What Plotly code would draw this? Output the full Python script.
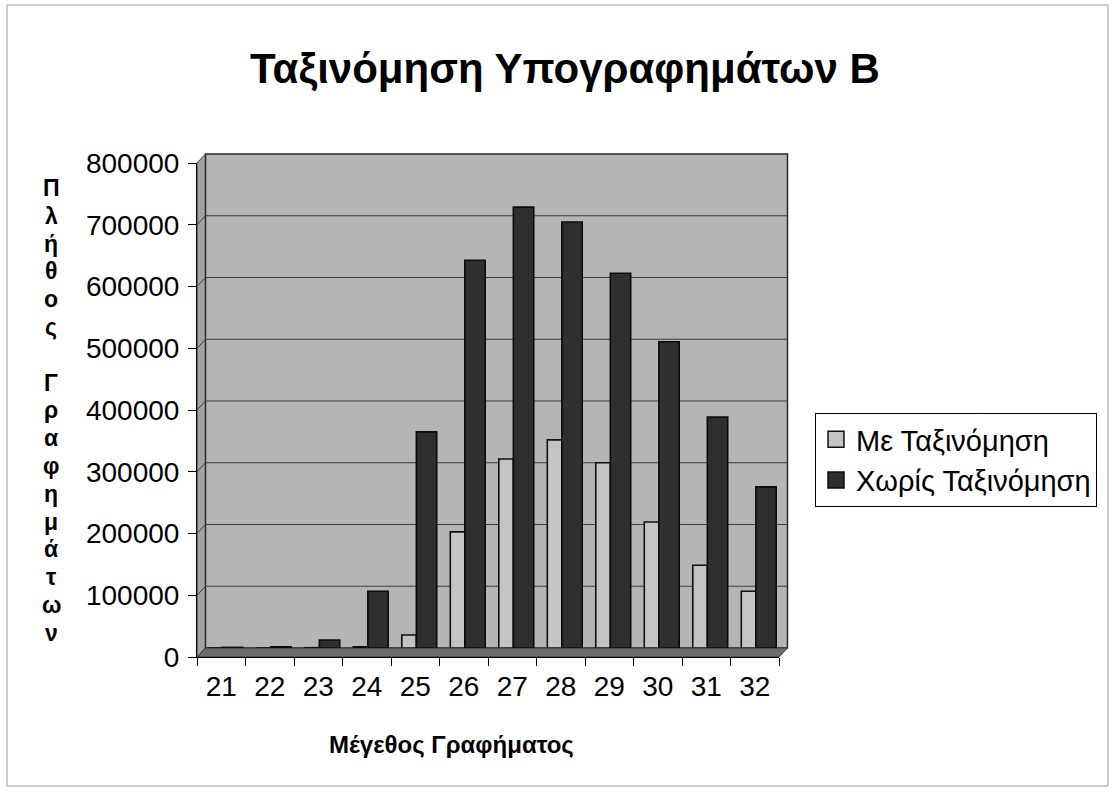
import plotly.graph_objects as go

# ---- data ----
sizes = ["21", "22", "23", "24", "25", "26", "27", "28", "29", "30", "31", "32"]
with_sort = [0, 0, 500, 2000, 21000, 188000, 306000, 337000, 300000, 204000, 134000, 92000]
without_sort = [1000, 2000, 13000, 92000, 350000, 628000, 714000, 690000, 607000, 496000, 374000, 261000]
y_ticks = [0, 100000, 200000, 300000, 400000, 500000, 600000, 700000, 800000]
y_tick_text = ["0", "100000", "200000", "300000", "400000", "500000", "600000", "700000", "800000"]

series_names = ["Με Ταξινόμηση", "Χωρίς Ταξινόμηση"]
series_colors = ["#c4c4c4", "#2f2f2f"]
title_text = "Ταξινόμηση Υπογραφημάτων Β"
x_title = "Μέγεθος Γραφήματος"
y_title = "Πλήθος Γραφημάτων"

# ---- page geometry (pixels) ----
W, H = 1114, 794
L, R, T, B = 197, 314, 150, 130
PW, PH = W - L - R, H - T - B
FONT = "Liberation Sans, Arial, sans-serif"

# front face of the 3D box and the back wall (depth offset)
FX0, FX1, FY_TOP, FY_BOT = 197, 779, 163, 657
DX, DY = 8.5, 9
BX0, BX1, BY_TOP, BY_BOT = FX0 + DX, FX1 + DX, FY_TOP - DY, FY_BOT - DY


def px_x(p):
    return (p - L) / PW


def px_y(p):
    return (H - B - p) / PH


def poly(points):
    return "M " + " L ".join(f"{px_x(x):.5f},{px_y(y):.5f}" for x, y in points) + " Z"


fig = go.Figure()

fig.add_trace(go.Bar(
    name=series_names[0], x=sizes, y=with_sort,
    offset=-0.36, width=0.30,
    marker=dict(color=series_colors[0], line=dict(color="#101010", width=1.6)),
    showlegend=False,
))
fig.add_trace(go.Bar(
    name=series_names[1], x=sizes, y=without_sort,
    offset=-0.06, width=0.42,
    marker=dict(color=series_colors[1], line=dict(color="#0c0c0c", width=1.6)),
    showlegend=False,
))
# legend keys: square swatches
for name, color in zip(series_names, series_colors):
    fig.add_trace(go.Scatter(
        x=[None], y=[None], name=name, mode="markers",
        marker=dict(symbol="square", size=18, color=color,
                    line=dict(color="#101010", width=1.5)),
    ))
# carrier for the front (labelled) axes
fig.add_trace(go.Scatter(
    x=sizes, y=[0] * len(sizes), xaxis="x2", yaxis="y2",
    mode="markers", marker=dict(opacity=0), showlegend=False, hoverinfo="skip",
))

shapes = []
# outer chart border
shapes.append(dict(type="rect", xref="paper", yref="paper",
                   x0=px_x(7), x1=px_x(1108), y0=px_y(786), y1=px_y(5),
                   line=dict(color="#9a9a9a", width=1), layer="below"))
# left side wall
shapes.append(dict(type="path", xref="paper", yref="paper",
                   path=poly([(FX0, FY_BOT), (FX0, FY_TOP), (BX0, BY_TOP), (BX0, BY_BOT)]),
                   fillcolor="#a2a2a2", line=dict(color="#3a3a3a", width=1), layer="below"))
# back wall
shapes.append(dict(type="path", xref="paper", yref="paper",
                   path=poly([(BX0, BY_BOT), (BX0, BY_TOP), (BX1, BY_TOP), (BX1, BY_BOT)]),
                   fillcolor="#b5b5b5", line=dict(color="#2a2a2a", width=1.5), layer="below"))
# floor
shapes.append(dict(type="path", xref="paper", yref="paper",
                   path=poly([(FX0, FY_BOT), (FX1, FY_BOT), (BX1, BY_BOT), (BX0, BY_BOT)]),
                   fillcolor="#6c6c6c", line=dict(color="#3a3a3a", width=1), layer="below"))
# gridlines on the back wall and their continuation across the side wall
for v in y_ticks[1:-1]:
    shapes.append(dict(type="line", xref="paper", yref="y",
                       x0=px_x(BX0), x1=px_x(BX1), y0=v, y1=v,
                       line=dict(color="#3c3c3c", width=1.2), layer="below"))
    shapes.append(dict(type="line", xref="paper", yref="y", ysizemode="pixel", yanchor=v,
                       x0=px_x(BX0), x1=px_x(FX0), y0=0, y1=-DY,
                       line=dict(color="#3c3c3c", width=1), layer="below"))

annotations = [
    dict(text=f"<b>{x_title}</b>", xref="paper", yref="paper",
         x=px_x(451), y=px_y(745), xanchor="center", yanchor="middle",
         showarrow=False, font=dict(size=24, family=FONT)),
]
# vertical axis title: one letter per row
LETTER_TOP, LETTER_STEP = 188, 27.8
for i, ch in enumerate(y_title):
    if ch == " ":
        continue
    annotations.append(dict(
        text=f"<b>{ch}</b>", xref="paper", yref="paper",
        x=px_x(51), y=px_y(LETTER_TOP + i * LETTER_STEP),
        xanchor="center", yanchor="middle", showarrow=False,
        font=dict(size=23, family=FONT)))

fig.update_layout(
    width=W, height=H,
    margin=dict(l=L, r=R, t=T, b=B),
    paper_bgcolor="white", plot_bgcolor="rgba(0,0,0,0)",
    font=dict(family=FONT, color="black"),
    barmode="overlay",
    showlegend=True,
    title=dict(text=title_text, font=dict(family=FONT, size=42, weight="bold", color="black"),
               x=565 / W, xref="container", xanchor="center",
               y=1 - 68 / H, yref="container", yanchor="middle"),
    xaxis=dict(domain=[px_x(201), px_x(783)], anchor="y", type="category",
               categoryarray=sizes, range=[-0.5, len(sizes) - 0.5], visible=False),
    yaxis=dict(domain=[px_y(BY_BOT), px_y(BY_TOP)], anchor="x", range=[0, 800000],
               visible=False),
    xaxis2=dict(domain=[0, px_x(FX1)], anchor="y2", type="category", categoryarray=sizes,
                range=[-0.5, len(sizes) - 0.5], tickson="boundaries",
                ticks="outside", ticklen=8, tickcolor="black", showline=True,
                linecolor="black", linewidth=1, showgrid=False, zeroline=False,
                tickfont=dict(size=28, family=FONT), ticklabelstandoff=4),
    yaxis2=dict(domain=[px_y(FY_BOT), px_y(FY_TOP)], anchor="x2", range=[0, 800000],
                tickvals=y_ticks, ticktext=y_tick_text, ticks="outside", ticklen=8,
                tickcolor="black", showline=True, linecolor="black", linewidth=1,
                showgrid=False, zeroline=False,
                tickfont=dict(size=28, family=FONT), ticklabelstandoff=3),
    legend=dict(x=px_x(815), y=px_y(413), xanchor="left", yanchor="top",
                bgcolor="white", bordercolor="black", borderwidth=1,
                font=dict(size=29, family=FONT), tracegroupgap=2,
                itemsizing="trace", traceorder="normal"),
    shapes=shapes,
    annotations=annotations,
)

fig.write_html("out.html")
